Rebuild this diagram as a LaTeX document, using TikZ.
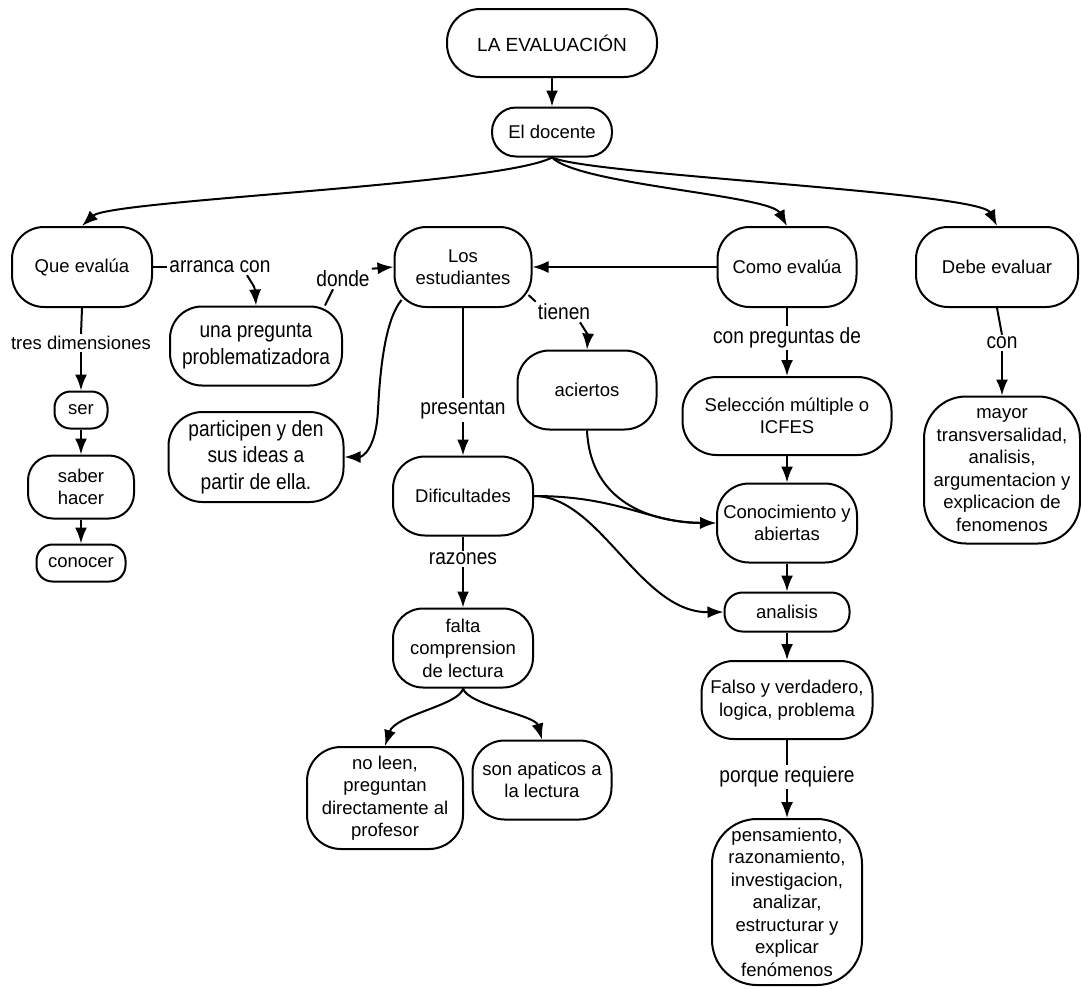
\documentclass[tikz,border=0pt]{standalone}
\usepackage{fontspec}
\setmainfont{Liberation Sans}
\newfontfamily\labfam[FakeStretch=0.87]{Liberation Sans}
\newcommand\ndfont{\fontsize{18.5}{22.5}\selectfont}
\newcommand\lbfont{\labfam\fontsize{22}{26.5}\selectfont}
\newcommand\bgfont{\fontsize{19}{23}\selectfont}
\usetikzlibrary{arrows.meta}
\tikzset{
  box/.style={draw, line width=2, rounded corners=#1, align=center, inner sep=0, font=\ndfont},
  box/.default=32,
  lbox/.style={box=#1, font=\lbfont},
  lbox/.default=32,
  lab/.style={inner sep=2, font=\lbfont, align=center},
  nlab/.style={inner sep=2, font=\ndfont, align=center},
  arr/.style={line width=2, -{Latex[length=16,width=12]}},
  ln/.style={line width=2},
}
\begin{document}
\begin{tikzpicture}[x=1pt,y=-1pt]
\useasboundingbox (0,0) rectangle (1081,988);
% nodes
\node[box=33, minimum width=210, minimum height=68, font=\bgfont] (ev) at (552,43) {LA EVALUACIÓN};
\node[box=24, minimum width=120, minimum height=49] (doc) at (552,132) {El docente};
\node[box, minimum width=140, minimum height=80] (que) at (82,267) {Que evalúa};
\node[box, minimum width=137, minimum height=80] (est) at (463,267) {Los\\estudiantes};
\node[box, minimum width=139, minimum height=80] (como) at (787,267) {Como evalúa};
\node[box, minimum width=162, minimum height=80] (debe) at (997,267) {Debe evaluar};
\node[lbox, minimum width=172, minimum height=79] (preg) at (256,346) {una pregunta\\problematizadora};
\node[lbox=34, minimum width=175, minimum height=90] (part) at (256,457) {participen y den\\sus ideas a\\partir de ella.};
\node[box=16, minimum width=53, minimum height=37] (ser) at (81,410) {ser};
\node[box=25, minimum width=106, minimum height=63] (sab) at (81,487) {saber\\hacer};
\node[box=16, minimum width=89, minimum height=37] (cono) at (81,563) {conocer};
\node[box, minimum width=140, minimum height=79] (dif) at (463,496) {Dificultades};
\node[box=30, minimum width=140, minimum height=79] (falta) at (463,648) {falta\\comprension\\de lectura};
\node[box=34, minimum width=156, minimum height=102] (nol) at (385,798) {no leen,\\preguntan\\directamente al\\profesor};
\node[box, minimum width=139, minimum height=79] (apa) at (542,780) {son apaticos a\\la lectura};
\node[box, minimum width=139, minimum height=79] (aci) at (587,390) {aciertos};
\node[box=34, minimum width=209, minimum height=78] (sel) at (787,416) {Selección múltiple o\\ICFES};
\node[box, minimum width=140, minimum height=79] (conoc) at (787,523) {Conocimiento y\\abiertas};
\node[box=18, minimum width=125, minimum height=39] (ana) at (787,612) {analisis};
\node[box, minimum width=171, minimum height=78] (fal) at (787,700) {Falso y verdadero,\\logica, problema};
\node[box=45, minimum width=150, minimum height=166] (pens) at (787,902) {pensamiento,\\razonamiento,\\investigacion,\\analizar,\\estructurar y\\explicar\\fenómenos};
\node[box=42, minimum width=156, minimum height=147] (may) at (1002,470) {mayor\\transversalidad,\\analisis,\\argumentacion y\\explicacion de\\fenomenos};
% labels
\node[lab] (arr) at (220,267) {arranca con};
\node[lab] (don) at (343,279) {donde};
\node[lab] (tien) at (564,312) {tienen};
\node[lab] (pre) at (463,410) {presentan};
\node[lab] (raz) at (463,559) {razones};
\node[lab] (cp) at (787,338) {con preguntas de};
\node[lab] (pr) at (787,777) {porque requiere};
\node[lab] (con) at (1002,343) {con};
\node[nlab] (tres) at (81,343) {tres dimensiones};
% connectors
\draw[arr] (ev) -- (doc);
\draw[arr] (doc.south) .. controls (500,185) and (110,200) .. (que.north);
\draw[arr] (doc.south) .. controls (580,185) and (770,195) .. (como.north);
\draw[arr] (doc.south) .. controls (590,175) and (980,192) .. (debe.north);
\draw[ln] (que.east) -- (arr.west);
\draw[arr] ([xshift=27]arr.south) .. controls (255,288) .. (preg.north);
\draw[ln] ([xshift=-18]preg.north east) -- ([xshift=-10]don.south);
\draw[arr] (don.north east) -- (est.west);
\draw[arr] ([xshift=8,yshift=8]est.south west) .. controls (385,320) and (380,370) .. (378,410) .. controls (376,450) and (362,457) .. (part.east);
\draw[ln] (est.south) -- (pre.north);
\draw[arr] (pre.south) -- (dif.north);
\draw[ln] ([xshift=-4,yshift=13]est.south east) -- (tien.north west);
\draw[arr] ([xshift=16]tien.south) .. controls (588,335) .. (aci.north);
\draw[arr] (aci.south) .. controls (590,495) and (640,522) .. (conoc.west);
\draw[arr] (dif.east) .. controls (620,496) and (650,523) .. (conoc.west);
\draw[arr] (dif.east) .. controls (600,496) and (640,613) .. (ana.west);
\draw[arr] (como.west) -- (est.east);
\draw[ln] (como.south) -- (cp.north);
\draw[arr] (cp.south) -- (sel.north);
\draw[arr] (sel) -- (conoc);
\draw[arr] (conoc) -- (ana);
\draw[arr] (ana) -- (fal);
\draw[ln] (fal.south) -- (pr.north);
\draw[arr] (pr.south) -- (pens.north);
\draw[ln] (debe.south) -- (con.north);
\draw[arr] (con.south) -- (may.north);
\draw[ln] (que.south) -- (tres.north);
\draw[arr] (tres.south) -- (ser.north);
\draw[arr] (ser) -- (sab);
\draw[arr] (sab) -- (cono);
\draw[ln] (dif.south) -- (raz.north);
\draw[arr] (raz.south) -- (falta.north);
\draw[arr] (falta.south) .. controls (460,705) and (395,715) .. (nol.north);
\draw[arr] (falta.south) .. controls (468,705) and (535,715) .. (apa.north);
\end{tikzpicture}
\end{document}
